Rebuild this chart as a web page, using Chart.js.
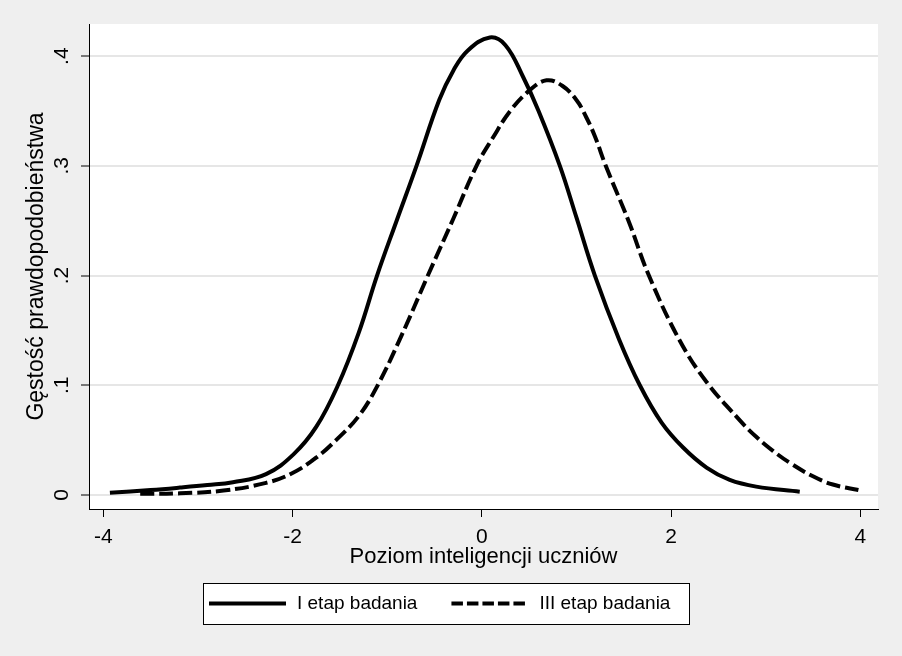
<!DOCTYPE html>
<html>
<head>
<meta charset="utf-8">
<script src="https://cdn.jsdelivr.net/npm/chart.js@4"></script>
<style>
  body { margin: 0; background: #efefef; }
  canvas { display: block; }
</style>
</head>
<body>
<canvas id="density-chart" width="902" height="656"></canvas>
<script>
// Kernel density, stage I (solid)
const xStage1 = [-3.93, -3.5, -3.19, -2.9, -2.63, -2.28, -1.99, -1.75, -1.52, -1.3, -1.107, -0.9, -0.69, -0.45, -0.3, -0.15, 0.085, 0.25, 0.437, 0.6, 0.825, 1.0, 1.195, 1.45, 1.67, 1.9, 2.13, 2.375, 2.62, 2.9, 3.36];
const yStage1 = [0.002, 0.0045, 0.0067, 0.009, 0.0116, 0.019, 0.037, 0.062, 0.1, 0.148, 0.2, 0.25, 0.3, 0.36, 0.387, 0.405, 0.417, 0.41, 0.381, 0.35, 0.3, 0.253, 0.2, 0.142, 0.1, 0.066, 0.043, 0.025, 0.0137, 0.0076, 0.003];

// Kernel density, stage III (dashed)
const xStage3 = [-3.61, -3.19, -2.73, -2.28, -2.0, -1.75, -1.54, -1.3, -1.1, -0.85, -0.57, -0.3, -0.056, 0.12, 0.3, 0.507, 0.684, 0.85, 1.0, 1.1, 1.195, 1.31, 1.55, 1.766, 2.09, 2.375, 2.727, 2.9, 3.08, 3.26, 3.5, 3.71, 3.98];
const yStage3 = [0.001, 0.0015, 0.004, 0.011, 0.02, 0.034, 0.05, 0.072, 0.1, 0.145, 0.2, 0.252, 0.3, 0.326, 0.35, 0.369, 0.378, 0.373, 0.36, 0.345, 0.327, 0.3, 0.25, 0.2, 0.141, 0.103, 0.068, 0.053, 0.04, 0.029, 0.017, 0.0095, 0.0045];

const seriesLabels = ["I etap badania", "III etap badania"];

const xTickValues = [-4, -2, 0, 2, 4];
const xTickLabels = ["-4", "-2", "0", "2", "4"];
const yTickValues = [0, 0.1, 0.2, 0.3, 0.4];
const yTickLabels = ["0", ".1", ".2", ".3", ".4"];

const fontFamily = "'Liberation Sans', Arial, sans-serif";

function toPoints(xs, ys) {
    return xs.map((x, i) => ({ x: x, y: ys[i] }));
}

// grey background and white plot region
const stataBackground = {
    id: "stataBackground",
    beforeDraw(chart) {
        const { ctx, chartArea } = chart;
        ctx.save();
        ctx.fillStyle = "#efefef";
        ctx.fillRect(0, 0, chart.width, chart.height);
        ctx.fillStyle = "#ffffff";
        ctx.fillRect(chartArea.left, chartArea.top, chartArea.right - chartArea.left, chartArea.bottom - chartArea.top);
        ctx.restore();
    },
};

// y tick labels are written vertically, like in Stata
const verticalYTicks = {
    id: "verticalYTicks",
    afterDraw(chart) {
        const { ctx } = chart;
        const scale = chart.scales.y;
        ctx.save();
        ctx.fillStyle = "#000000";
        ctx.font = "21px " + fontFamily;
        ctx.textAlign = "center";
        ctx.textBaseline = "middle";
        scale.ticks.forEach((tick) => {
            const py = scale.getPixelForValue(tick.value);
            ctx.save();
            ctx.translate(62, py);
            ctx.rotate(-Math.PI / 2);
            ctx.fillText(tick.label, 0, 0);
            ctx.restore();
        });
        ctx.restore();
    },
};

// boxed legend under the x title (the built-in one can't dash its line samples)
const boxedLegend = {
    id: "boxedLegend",
    afterDraw(chart) {
        const { ctx } = chart;
        const sampleLen = 77;
        const midY = 603.5;
        ctx.save();
        ctx.fillStyle = "#ffffff";
        ctx.fillRect(203.5, 583.5, 486, 41);
        ctx.strokeStyle = "#000000";
        ctx.lineWidth = 1;
        ctx.strokeRect(203.5, 583.5, 486, 41);

        ctx.font = "19px " + fontFamily;
        ctx.textBaseline = "middle";
        ctx.textAlign = "left";
        let x = 209;
        chart.data.datasets.forEach((ds) => {
            ctx.beginPath();
            ctx.strokeStyle = ds.borderColor;
            ctx.lineWidth = ds.borderWidth;
            ctx.setLineDash(ds.borderDash ? [11.5, 4] : []);
            ctx.moveTo(x, midY);
            ctx.lineTo(x + sampleLen, midY);
            ctx.stroke();
            ctx.setLineDash([]);
            ctx.fillStyle = "#000000";
            const tx = x + sampleLen + 11;
            ctx.fillText(ds.label, tx, midY);
            x = tx + ctx.measureText(ds.label).width + 34;
        });
        ctx.restore();
    },
};

const ctx = document.getElementById("density-chart").getContext("2d");
const densityChart = new Chart(ctx, {
    type: "line",
    data: {
        datasets: [
            {
                label: seriesLabels[0],
                data: toPoints(xStage1, yStage1),
                borderColor: "#000000",
                backgroundColor: "#000000",
                borderWidth: 4,
                pointRadius: 0,
                tension: 0.4,
                fill: false,
            },
            {
                label: seriesLabels[1],
                data: toPoints(xStage3, yStage3),
                borderColor: "#000000",
                backgroundColor: "#000000",
                borderWidth: 4,
                borderDash: [14, 5],
                pointRadius: 0,
                tension: 0.4,
                fill: false,
            },
        ],
    },
    options: {
        responsive: false,
        animation: false,
        devicePixelRatio: 1,
        layout: {
            padding: { top: 24, right: 24, left: 4, bottom: 96.5 },
        },
        scales: {
            x: {
                type: "linear",
                min: -4.151,
                max: 4.187,
                afterBuildTicks: (axis) => {
                    axis.ticks = xTickValues.map((v) => ({ value: v }));
                },
                afterFit: (axis) => {
                    axis.height = 50.5;
                },
                ticks: {
                    color: "#000000",
                    font: { family: fontFamily, size: 21 },
                    padding: 8,
                    maxRotation: 0,
                    callback: (value) => xTickLabels[xTickValues.indexOf(value)],
                },
                grid: {
                    drawOnChartArea: false,
                    drawTicks: true,
                    tickLength: 8,
                    tickColor: "#000000",
                    tickWidth: 1,
                },
                border: { display: true, color: "#000000", width: 1 },
                title: {
                    display: true,
                    text: "Poziom inteligencji uczniów",
                    color: "#000000",
                    font: { family: fontFamily, size: 22, lineHeight: 1 },
                    padding: { top: 0, bottom: -8.5 },
                },
            },
            y: {
                type: "linear",
                min: -0.0128,
                max: 0.4293,
                afterBuildTicks: (axis) => {
                    axis.ticks = yTickValues.map((v) => ({ value: v }));
                },
                afterFit: (axis) => {
                    axis.width = 85;
                },
                ticks: {
                    display: false,
                    callback: (value) => yTickLabels[yTickValues.indexOf(value)],
                },
                grid: {
                    color: "#e6e6e6",
                    lineWidth: 2,
                    drawTicks: true,
                    tickLength: 8,
                    tickColor: "#000000",
                    tickWidth: 1,
                },
                border: { display: true, color: "#000000", width: 1 },
                title: {
                    display: true,
                    text: "Gęstość prawdopodobieństwa",
                    color: "#000000",
                    font: { family: fontFamily, size: 23, lineHeight: 1 },
                    padding: { top: 21, bottom: 0 },
                },
            },
        },
        plugins: {
            legend: { display: false },
            tooltip: { enabled: false },
        },
    },
    plugins: [stataBackground, verticalYTicks, boxedLegend],
});
</script>
</body>
</html>
